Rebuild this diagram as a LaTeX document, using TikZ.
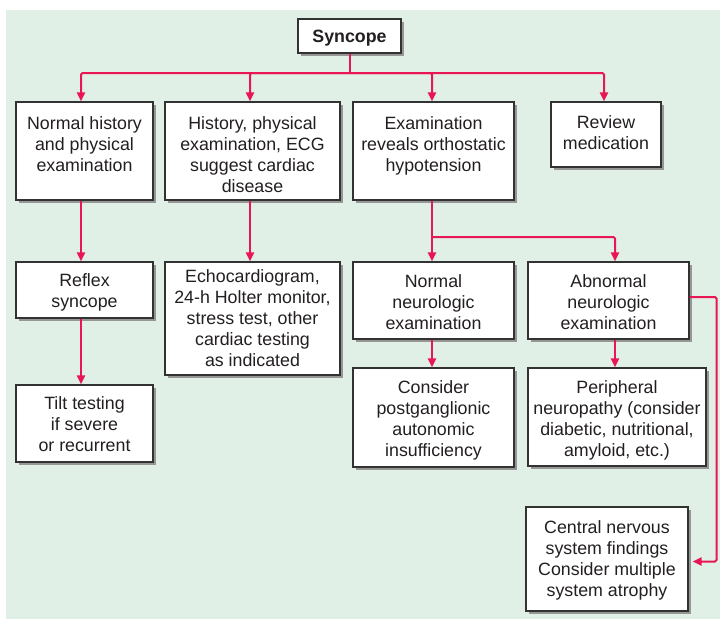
\documentclass[tikz,border=0pt]{standalone}
\usepackage{fontspec}
\setmainfont{Liberation Sans}
\usetikzlibrary{arrows.meta,shadows,calc}
\definecolor{bgc}{RGB}{224,240,230}
\definecolor{linec}{RGB}{232,22,84}
\definecolor{txt}{RGB}{35,31,32}
\definecolor{bord}{RGB}{50,50,50}
\definecolor{shd}{RGB}{150,150,150}
\newcommand\bt[4]{\parbox[c][#2pt][t]{#1pt}{\fontsize{17.8}{21}\selectfont\centering\vspace*{#3pt}\strut #4}}
\tikzset{
  bx/.style={draw=bord, line width=1.2pt, fill=white, inner sep=0pt, text=txt,
    drop shadow={shadow xshift=3pt, shadow yshift=-3pt, fill=shd, opacity=1}},
  ln/.style={draw=linec, line width=2pt, rounded corners=1.5pt},
  arr/.style={ln, -{Triangle[length=9pt,width=8pt]}}
}
\begin{document}
\begin{tikzpicture}[x=1pt,y=-1pt]
\useasboundingbox (0,0) rectangle (720,619);
\fill[bgc] (6,10) rectangle (720,619);

\node[bx] (syn) at (349.5,36) {\bt{103}{34}{8.3}{\bfseries Syncope}};
\node[bx] (n1) at (84.5,151) {\bt{137}{98}{12.3}{Normal history\\and physical\\examination}};
\node[bx] (n2) at (252.5,151) {\bt{175}{98}{12.3}{History, physical\\examination, ECG\\suggest cardiac\\disease}};
\node[bx] (n3) at (433.5,151) {\bt{161}{98}{12.3}{Examination\\reveals orthostatic\\hypotension}};
\node[bx] (n4) at (606,134.5) {\bt{110}{65}{11.3}{Review\\medication}};
\node[bx] (reflex) at (84.5,290) {\bt{137}{56}{9.3}{Reflex\\syncope}};
\node[bx] (tilt) at (84.5,423.5) {\bt{137}{77}{9.3}{Tilt testing\\if severe\\or recurrent}};
\node[bx] (echo) at (252.5,318.5) {\bt{175}{113}{5.3}{Echocardiogram,\\24-h Holter monitor,\\stress test, other\\cardiac testing\\as indicated}};
\node[bx] (nn) at (433.5,300.5) {\bt{161}{77}{10.3}{Normal\\neurologic\\examination}};
\node[bx] (an) at (608.5,300.5) {\bt{161}{77}{10.3}{Abnormal\\neurologic\\examination}};
\node[bx] (cons) at (433.5,417.5) {\bt{161}{99}{10.3}{Consider\\postganglionic\\autonomic\\insufficiency}};
\node[bx] (per) at (617,417) {\bt{178}{98}{10.3}{Peripheral\\neuropathy (consider\\diabetic, nutritional,\\amyloid, etc.)}};
\node[bx] (cns) at (607,559) {\bt{162}{104}{11.3}{Central nervous\\system findings\\Consider multiple\\system atrophy}};

\coordinate (jt) at (349.5,73);
\coordinate (j2) at (432,237);
\coordinate (r1) at (716.5,297);
\coordinate (r2) at (716.5,561.5);

\draw[ln] (syn) -- (jt);
\draw[arr] (jt) -| ([xshift=-3.5pt]n1.north);
\draw[arr] (jt) -| ([xshift=-2.5pt]n2.north);
\draw[arr] (jt) -| ([xshift=-1.5pt]n3.north);
\draw[arr] (jt) -| ([xshift=-2pt]n4.north);

\draw[arr] ([xshift=-3.5pt]n1.south) -- ([xshift=-3.5pt]reflex.north);
\draw[arr] ([xshift=-3.5pt]reflex.south) -- ([xshift=-3.5pt]tilt.north);
\draw[arr] ([xshift=-2.5pt]n2.south) -- ([xshift=-2.5pt]echo.north);

\draw[ln] ([xshift=-1.5pt]n3.south) -- (j2);
\draw[arr] (j2) -- ([xshift=-1.5pt]nn.north);
\draw[arr] (j2) -| ([xshift=6.5pt]an.north);
\draw[arr] ([xshift=-1.5pt]nn.south) -- ([xshift=-1.5pt]cons.north);
\draw[arr] ($(an.south)+(6.5pt,0)$) -- ($(an.south |- per.north)+(6.5pt,0)$);
\draw[arr] ([yshift=3.5pt]an.east) -- (r1) -- (r2) -- ($(cns.east |- r2)+(4pt,0)$);
\end{tikzpicture}
\end{document}
